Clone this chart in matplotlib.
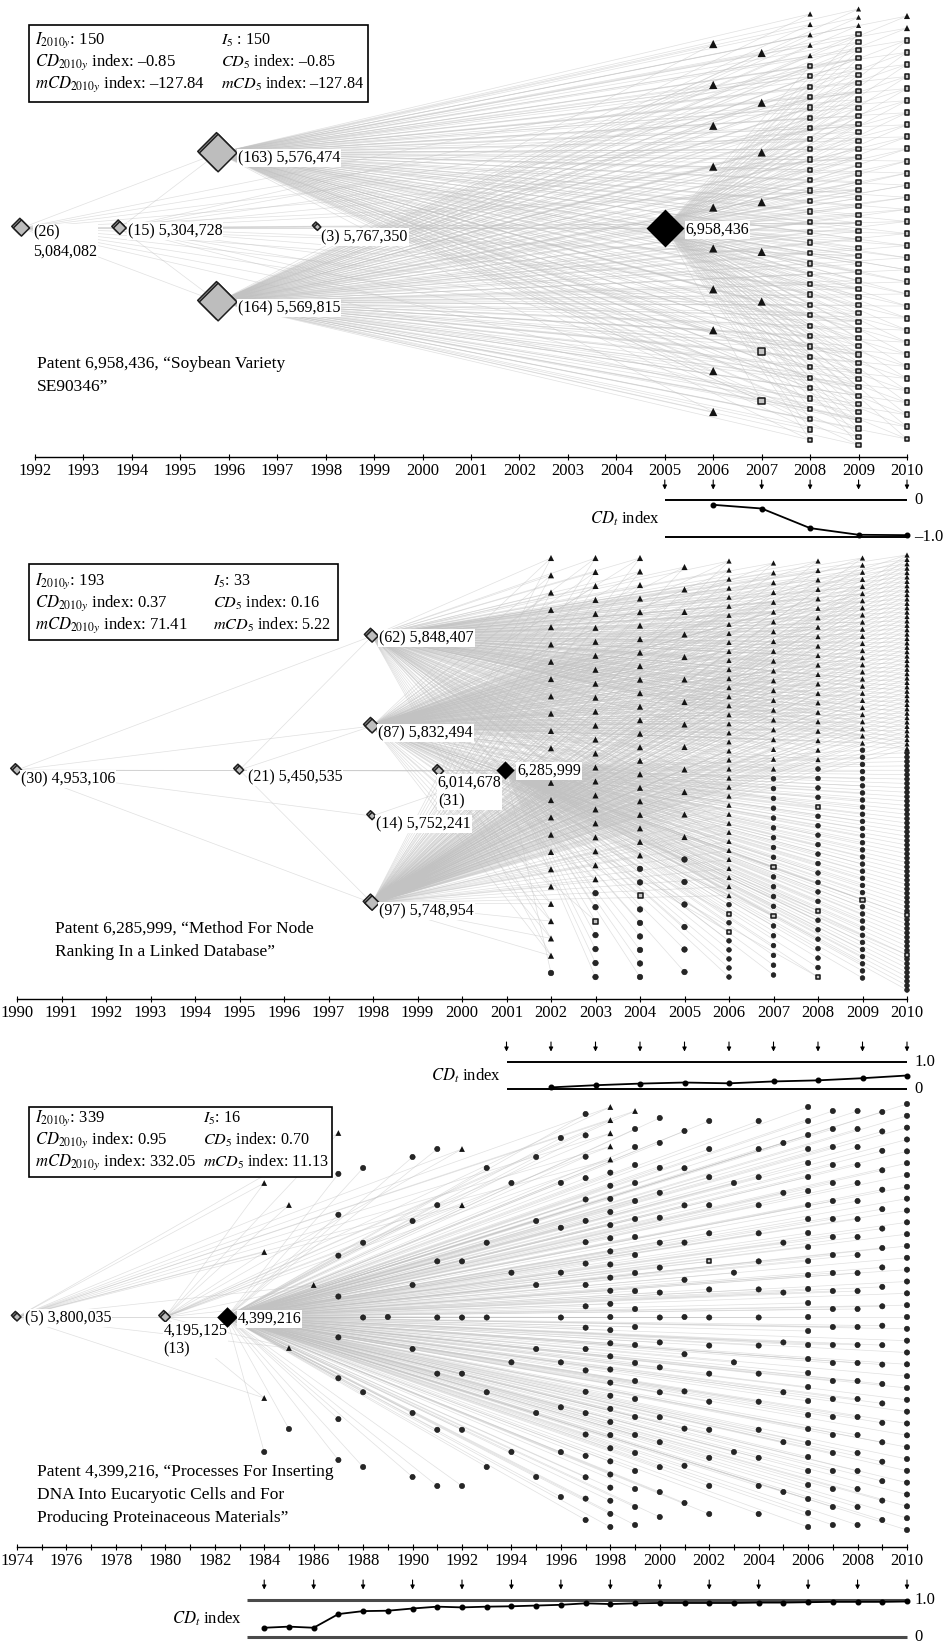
import numpy as np
import matplotlib
matplotlib.use("Agg")
import matplotlib.pyplot as plt
from matplotlib.collections import LineCollection
from matplotlib.patches import Rectangle
from matplotlib.transforms import offset_copy

plt.rcParams["font.family"] = ["Liberation Serif", "DejaVu Serif"]
plt.rcParams["mathtext.fontset"] = "stix"

# ---------------- data: panel 1 (6,958,436) ----------------
p1_focal = "6,958,436"
p1_focal_year = 2005.0
p1_pred_ids = ["5,084,082", "5,304,728", "5,576,474", "5,569,815", "5,767,350"]
p1_pred_years = [1991.72, 1993.75, 1995.78, 1995.78, 1997.83]
p1_pred_counts = [26, 15, 163, 164, 3]
p1_pred_links = [(2, 0), (2, 1), (3, 0), (3, 1), (1, 0), (4, 0), (4, 1)]
p1_cite_years = [2006, 2007, 2008, 2009, 2010]
p1_cite_types = [
    "TTTTTTTTTT",
    "TTTTTTSS",
    "TTTTT" + "S" * 37,
    "TTT" + "SSSQ" * 12 + "SSS",
    "TT" + "S" * 34,
]
p1_targets = {"T": [2, 3], "S": ["F", 2, 3], "Q": ["F", 2, 3, 0, 1]}
p1_cd_years = [2006, 2007, 2008, 2009, 2010]
p1_cd_values = [-0.13, -0.23, -0.76, -0.94, -0.95]
p1_I = [150, 150]
p1_CD = [-0.85, -0.85]
p1_mCD = [-127.84, -127.84]
p1_title = ["Patent 6,958,436, \u201cSoybean Variety", "SE90346\u201d"]

# ---------------- data: panel 2 (6,285,999) ----------------
p2_focal = "6,285,999"
p2_focal_year = 2000.97
p2_pred_ids = ["4,953,106", "5,450,535", "5,848,407", "5,832,494",
               "6,014,678", "5,752,241", "5,748,954"]
p2_pred_years = [1990.0, 1995.0, 1997.98, 1997.98, 1999.48, 1997.98, 1997.98]
p2_pred_counts = [30, 21, 62, 87, 31, 14, 97]
p2_pred_links = [(2, 0), (3, 0), (6, 0), (5, 0), (1, 0), (4, 0),
                 (3, 1), (6, 1), (2, 1), (4, 1)]
p2_cite_years = [2002, 2003, 2004, 2005, 2006, 2007, 2008, 2009, 2010]
p2_cite_types = [
    "T" * 24 + "C",
    "T" * 24 + "CCSCCCC",
    "T" * 23 + "CCS" + "C" * 6,
    "T" * 13 + "C" * 6,
    "T" * 38 + "CSCS" + "C" * 5,
    "T" * 22 + "C" * 9 + "S" + "C" * 4 + "S" + "C" * 6,
    "T" * 22 + "C" * 4 + "S" + "C" * 10 + "S" + "C" * 6 + "S",
    "T" * 27 + "C" * 21 + "S" + "C" * 11,
    "T" * 45 + "C" * 37 + "S" + "C" * 8 + "S" + "C" * 8,
]
p2_targets = {"T": [2, 3, 6], "C": ["F"], "S": ["F", 3]}
p2_cd_years = [2002, 2003, 2004, 2005, 2006, 2007, 2008, 2009, 2010]
p2_cd_values = [0.06, 0.14, 0.20, 0.24, 0.21, 0.28, 0.32, 0.40, 0.50]
p2_I = [193, 33]
p2_CD = [0.37, 0.16]
p2_mCD = [71.41, 5.22]
p2_title = ["Patent 6,285,999, \u201cMethod For Node", "Ranking In a Linked Database\u201d"]

# ---------------- data: panel 3 (4,399,216) ----------------
p3_focal = "4,399,216"
p3_focal_year = 1982.48
p3_pred_ids = ["3,800,035", "4,195,125"]
p3_pred_years = [1974.0, 1980.0]
p3_pred_counts = [5, 13]
p3_pred_links = [(1, 0)]
p3_cite_years = list(range(1984, 2011))
p3_cite_types = [
    "TTTC", "TTC", "T", "T" + "C" * 8, "C" * 5, "C", "C" * 6, "C" * 7,
    "TT" + "C" * 5, "C" * 5, "C" * 4, "C" * 6, "C" * 9, "C" * 20,
    "T" * 5 + "C" * 28, "T" + "C" * 23, "C" * 17, "C" * 11,
    "C" * 5 + "S" + "C" * 9, "C" * 4, "C" * 15, "C" * 8, "C" * 31,
    "C" * 24, "C" * 24, "C" * 22, "C" * 37,
]
p3_targets = {"T": [0, 1], "C": ["F"], "S": ["F", 1]}
p3_cd_years = list(range(1984, 2011))
p3_cd_values = [0.25, 0.28, 0.25, 0.62, 0.70, 0.71, 0.77, 0.82, 0.80, 0.82,
                0.83, 0.85, 0.87, 0.91, 0.89, 0.91, 0.92, 0.92, 0.92, 0.92,
                0.93, 0.93, 0.94, 0.95, 0.95, 0.95, 0.96]
p3_I = [339, 16]
p3_CD = [0.95, 0.70]
p3_mCD = [332.05, 11.13]
p3_title = ["Patent 4,399,216, \u201cProcesses For Inserting",
            "DNA Into Eucaryotic Cells and For",
            "Producing Proteinaceous Materials\u201d"]

# ---------------- layout (pixel offsets from the panel centre line) ----------------
p1_pred_dy = [0, 0, -75, 74, -1]
p1_col_layout = [(-184, 184), (-175, 173), (-214, 212), (-219, 217), (-212, 211)]
p1_label_lay = [(12, 14, "({c})\n{id}"), (8, 3, "({c}) {id}"), (20, 5, "({c}) {id}"),
                (20, 6, "({c}) {id}"), (4, 10, "({c}) {id}")]
p2_pred_dy = [0, 0, -134, -44, 1, 46, 133]
p2_col_layout = [(-212, 203), (-212, 207), (-212, 207), (-203, 202), (-209, 207),
                 (-207, 205), (-209, 207), (-212, 208), (-215, 220)]
p2_label_lay = [(4, 9, "({c}) {id}"), (8, 7, "({c}) {id}"), (7, 2, "({c}) {id}"),
                (6, 7, "({c}) {id}"), (-1, 21, "{id}\n({c})"), (4, 8, "({c}) {id}"),
                (7, 8, "({c}) {id}")]
p3_pred_dy = [0, 0]
p3_col_layout = [
    [-134, -65, 81, 135], [-112, 31, 112], [-32], (-184, 143), (-149, 150), [0],
    (-160, 160), (-168, 169), (-168, 169), (-149, 150), (-134, 135), (-160, 160),
    (-179, 180), (-203, 203), (-210, 210), (-206, 208), (-199, 200), (-186, 186),
    (-196, 197), (-134, 135), (-196, 197), (-174, 175), (-210, 210), (-206, 208),
    (-206, 208), (-205, 203), (-213, 213),
]
p3_label_lay = [(8, 1, "({c}) {id}"), (-2, 23, "{id}\n({c})")]

W, H = 947, 1644
fig = plt.figure(figsize=(W / 100, H / 100), dpi=100)
FS = 11.5
EDGE = (0.76, 0.76, 0.76)


def fmt(v):
    return f"{v:.2f}".replace("-", "\u2013")


def net_axes(start, end, x0, x1, top, base, mid, ticks, minor=None):
    ppy = (x1 - x0) / (end - start)
    ax = fig.add_axes([0, 1 - base / H, 1, (base - top) / H])
    xlim = (start - x0 / ppy, end + (W - x1) / ppy)
    ax.set_xlim(*xlim)
    ax.set_ylim(base - mid, top - mid)
    ax.patch.set_visible(False)
    for s in ["top", "left", "right"]:
        ax.spines[s].set_visible(False)
    ax.spines["bottom"].set_bounds(start, end)
    ax.spines["bottom"].set_linewidth(1.0)
    ax.yaxis.set_visible(False)
    ax.set_xticks(ticks)
    ax.set_xticklabels([str(t) for t in ticks])
    if minor is not None:
        ax.set_xticks(minor, minor=True)
    ax.tick_params(axis="x", which="both", direction="inout", length=5, width=0.8,
                   pad=2, labelsize=12)
    return ax, xlim


def draw_network(ax, focal, focal_year, ids, years, counts, dys, links,
                 cite_years, cite_types, col_layout, targets, label_lay,
                 ms_focal, ms_a, ms_b, ms_lim, focal_lab):
    px = np.array(years, float)
    py = np.array(dys, float)

    def node(t):
        return (focal_year, 0.0) if t == "F" else (px[t], py[t])

    segs = [[(focal_year, 0.0), (px[i], py[i])] for i in range(len(ids))]
    segs += [[(px[a], py[a]), (px[b], py[b])] for a, b in links]
    marks = {"T": [], "C": [], "S": []}
    for yr, types, lay in zip(cite_years, cite_types, col_layout):
        n = len(types)
        if isinstance(lay, tuple):
            ys = np.linspace(lay[0], lay[1], n)
            gap = (lay[1] - lay[0]) / (n - 1) if n > 1 else 60
        else:
            ys = np.array(lay, float)
            gap = np.min(np.diff(ys)) if n > 1 else 60
        ms = float(np.clip(gap * 0.33, ms_lim[0], ms_lim[1]))
        for t, yy in zip(types, ys):
            for tgt in targets[t]:
                segs.append([(yr, yy), node(tgt)])
            marks["S" if t in "SQ" else t].append((yr, yy, ms))
    ax.add_collection(LineCollection(segs, colors=[EDGE], linewidths=0.5,
                                     alpha=0.5, zorder=1))
    if marks["T"]:
        m = np.array(marks["T"])
        ax.scatter(m[:, 0], m[:, 1], s=(m[:, 2] * 1.1) ** 2, marker="^",
                   c="#141414", linewidths=0, zorder=3)
    if marks["C"]:
        m = np.array(marks["C"])
        ax.scatter(m[:, 0], m[:, 1], s=(m[:, 2] * 1.0) ** 2, marker="o",
                   c="#262626", edgecolors="#111111", linewidths=0.4, zorder=3)
    if marks["S"]:
        m = np.array(marks["S"])
        ax.scatter(m[:, 0], m[:, 1], s=(m[:, 2] * 0.9) ** 2, marker="s",
                   facecolors="#c4c4c4", edgecolors="#161616", linewidths=1.1,
                   zorder=3)
    # predecessors (grey diamonds with a stacked shadow)
    sizes = (ms_a + ms_b * np.sqrt(np.array(counts, float))) ** 2
    shadow = offset_copy(ax.transData, fig=fig, x=-1.6, y=1.6, units="dots")
    ax.scatter(px, py, s=sizes, marker="D", facecolors="#9a9a9a",
               edgecolors="#1e1e1e", linewidths=1.1, zorder=4, transform=shadow)
    ax.scatter(px, py, s=sizes, marker="D", facecolors="#bdbdbd",
               edgecolors="#1e1e1e", linewidths=1.1, zorder=4.2)
    ax.scatter([focal_year], [0], s=ms_focal ** 2, marker="D", c="black",
               linewidths=0, zorder=5)
    for i, (dx, dy, tpl) in enumerate(label_lay):
        ax.annotate(tpl.format(c=counts[i], id=ids[i]), (px[i], py[i]),
                    xytext=(dx, -dy), textcoords="offset pixels", ha="left",
                    va="center", fontsize=FS, zorder=4.5,
                    bbox=dict(fc="white", ec="none", pad=0.6))
    dx, dy = focal_lab
    ax.annotate(focal, (focal_year, 0), xytext=(dx, -dy), textcoords="offset pixels",
                ha="left", va="center", fontsize=FS, zorder=5.5,
                bbox=dict(fc="white", ec="none", pad=0.6))


def draw_cd(xlim, y_hi, y_lo, v_hi, v_lo, start, end, years, vals, arrows,
            labs, lcol, lw):
    ax = fig.add_axes([0, 1 - y_lo / H, 1, (y_lo - y_hi) / H])
    ax.set_xlim(*xlim)
    ax.set_ylim(v_lo, v_hi)
    ax.axis("off")
    for v, lab in zip((v_hi, v_lo), labs):
        ax.plot([start, end], [v, v], color=lcol, lw=lw, clip_on=False,
                solid_capstyle="butt")
        ax.annotate(lab, (end, v), xytext=(7, 0), textcoords="offset pixels",
                    ha="left", va="center", fontsize=12)
    ax.plot(years, vals, "-o", color="black", lw=1.3, ms=3.3, clip_on=False,
            zorder=3)
    # small downward arrows from the year axis to the CD_t scale
    for yr in arrows:
        ax.annotate("", xy=(yr, v_hi), xytext=(0, 20), textcoords="offset pixels",
                    annotation_clip=False,
                    arrowprops=dict(arrowstyle="-|>", lw=0.8, color="black",
                                    mutation_scale=6, shrinkA=0, shrinkB=7.5))
    ax.annotate(r"$CD_t$ index", (start, (v_hi + v_lo) / 2), xytext=(-5, 0),
                textcoords="offset pixels", ha="right", va="center", fontsize=12)


# ---------------- panel 1 ----------------
ax1, xl1 = net_axes(1992, 2010, 35, 907, 0, 457, 228, list(range(1992, 2011)))
draw_network(ax1, p1_focal, p1_focal_year, p1_pred_ids, p1_pred_years, p1_pred_counts,
             p1_pred_dy, p1_pred_links, p1_cite_years, p1_cite_types, p1_col_layout,
             p1_targets, p1_label_lay, 19.3, 1.0, 1.42, (3.3, 5.4), (21, 2))
draw_cd(xl1, 500, 537, 0.0, -1.0, p1_focal_year, 2010, p1_cd_years, p1_cd_values,
        list(range(2005, 2011)), ["0", "\u20131.0"], "black", 1.4)

# ---------------- panel 2 ----------------
ax2, xl2 = net_axes(1990, 2010, 17, 907, 548, 999, 770, list(range(1990, 2011)))
draw_network(ax2, p2_focal, p2_focal_year, p2_pred_ids, p2_pred_years, p2_pred_counts,
             p2_pred_dy, p2_pred_links, p2_cite_years, p2_cite_types, p2_col_layout,
             p2_targets, p2_label_lay, 9.3, 1.5, 0.6, (3.4, 4.0), (12, 1))
draw_cd(xl2, 1062, 1089, 1.0, 0.0, 2001, 2010, p2_cd_years, p2_cd_values,
        list(range(2001, 2011)), ["1.0", "0"], "black", 1.4)

# ---------------- panel 3 ----------------
ax3, xl3 = net_axes(1974, 2010, 17, 907, 1095, 1547, 1317, list(range(1974, 2011, 2)),
                    minor=list(range(1975, 2010, 2)))
draw_network(ax3, p3_focal, p3_focal_year, p3_pred_ids, p3_pred_years, p3_pred_counts,
             p3_pred_dy, p3_pred_links, p3_cite_years, p3_cite_types, p3_col_layout,
             p3_targets, p3_label_lay, 10.5, 2.5, 0.7, (3.2, 3.8), (11, 2))
draw_cd(xl3, 1600, 1637, 1.0, 0.0, 1983.3, 2010, p3_cd_years, p3_cd_values,
        list(range(1984, 2011, 2)), ["1.0", "0"], "#4a4a4a", 2.2)

# ---------------- overlay: stats boxes and titles ----------------
ov = fig.add_axes([0, 0, 1, 1], zorder=10)
ov.set_xlim(0, W)
ov.set_ylim(H, 0)
ov.axis("off")


def stats_box(left, top, right, bottom, y0, col2, I, CD, mCD, sep=""):
    ov.add_patch(Rectangle((left, top), right - left, bottom - top, fc="white",
                           ec="black", lw=1.2))
    rows = [(r"$I_{2010y}$: " + str(I[0]), r"$I_5$" + sep + ": " + str(I[1])),
            (r"$CD_{2010y}$ index: " + fmt(CD[0]), r"$CD_5$ index: " + fmt(CD[1])),
            (r"$mCD_{2010y}$ index: " + fmt(mCD[0]), r"$mCD_5$ index: " + fmt(mCD[1]))]
    for i, (a, b) in enumerate(rows):
        ov.text(left + 6, y0 + 22 * i, a, ha="left", va="center", fontsize=12)
        ov.text(col2, y0 + 22 * i, b, ha="left", va="center", fontsize=11.6)


stats_box(29, 25, 368, 102, 40, 221, p1_I, p1_CD, p1_mCD, sep=" ")
stats_box(29, 564, 338, 640, 581, 213, p2_I, p2_CD, p2_mCD)
stats_box(29, 1107, 332, 1177, 1118, 203, p3_I, p3_CD, p3_mCD)

for x, y0, lines in ((37, 364, p1_title), (55, 929, p2_title), (37, 1472, p3_title)):
    for i, ln in enumerate(lines):
        ov.text(x, y0 + 23 * i, ln, ha="left", va="center", fontsize=12.5)

fig.savefig("out.png", dpi=100)
